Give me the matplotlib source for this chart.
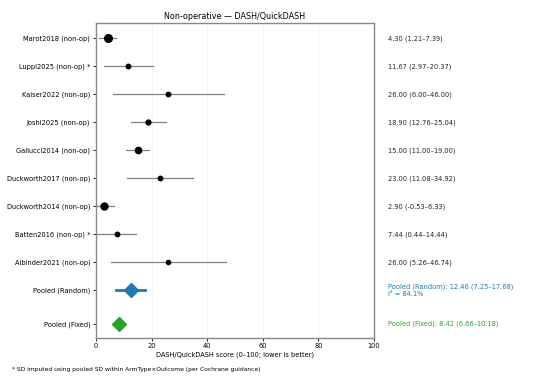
import numpy as np
import matplotlib.pyplot as plt

studies = ['Marot2018 (non-op)', 'Luppi2025 (non-op) *', 'Kaiser2022 (non-op)', 'Joshi2025 (non-op)',
           'Gallucci2014 (non-op)', 'Duckworth2017 (non-op)', 'Duckworth2014 (non-op)',
           'Batten2016 (non-op) *', 'Aibinder2021 (non-op)']
means = [4.30, 11.67, 26.00, 18.90, 15.00, 23.00, 2.90, 7.44, 26.00]
lows = [1.21, 2.97, 6.00, 12.76, 11.00, 11.08, -0.53, 0.44, 5.26]
highs = [7.39, 20.37, 46.00, 25.04, 19.00, 34.92, 6.33, 14.44, 46.74]
msizes = [5.5, 3.2, 3.2, 3.5, 4.5, 3.2, 5.0, 3.2, 3.0]

rand_est, rand_lo, rand_hi = 12.46, 7.25, 17.68
i2 = 84.1
fix_est, fix_lo, fix_hi = 8.42, 6.66, 10.18

fs = 4.8
fig = plt.figure(figsize=(5.45, 3.91), dpi=100)
ax = fig.add_axes([0.176, 0.136, 0.51, 0.805])

ys = np.arange(len(studies))
y_rand = len(studies)
y_fix = len(studies) + 1.2

for y, m, lo, hi, s in zip(ys, means, lows, highs, msizes):
    ax.plot([lo, hi], [y, y], color='gray', lw=0.9, zorder=2)
    ax.plot(m, y, 'o', color='black', ms=s, zorder=3)
    ax.text(1.05, y, '%.2f (%.2f–%.2f)' % (m, lo, hi), transform=ax.get_yaxis_transform(),
            va='center', ha='left', fontsize=fs, color='#222222')

ax.plot([rand_lo, rand_hi], [y_rand, y_rand], color='#1f77b4', lw=2, zorder=2)
ax.plot(rand_est, y_rand, 'D', color='#1f77b4', ms=7.5, zorder=3)
ax.text(1.05, y_rand, 'Pooled (Random): %.2f (%.2f–%.2f)\nI² = %.1f%%' % (rand_est, rand_lo, rand_hi, i2),
        transform=ax.get_yaxis_transform(), va='center', ha='left', fontsize=fs,
        color='#1f77b4', linespacing=1.2)

ax.plot([fix_lo, fix_hi], [y_fix, y_fix], color='#2ca02c', lw=2, zorder=2)
ax.plot(fix_est, y_fix, 'D', color='#2ca02c', ms=7.5, zorder=3)
ax.text(1.05, y_fix, 'Pooled (Fixed): %.2f (%.2f–%.2f)' % (fix_est, fix_lo, fix_hi),
        transform=ax.get_yaxis_transform(), va='center', ha='left', fontsize=fs, color='#2ca02c')

ax.set_yticks(list(ys) + [y_rand, y_fix])
ax.set_yticklabels(studies + ['Pooled (Random)', 'Pooled (Fixed)'], fontsize=fs)
ax.set_ylim(y_fix + 0.5, -0.55)
ax.set_xlim(0, 100)
ax.set_xticks([0, 20, 40, 60, 80, 100])
ax.tick_params(axis='x', labelsize=fs, length=2.5, width=0.6, pad=1.5)
ax.tick_params(axis='y', length=2.5, width=0.6, pad=1.5)
ax.grid(axis='x', color='#eeeeee', lw=0.5)
ax.set_axisbelow(True)
for sp in ax.spines.values():
    sp.set_color('#888888')
    sp.set_linewidth(1.0)

ax.set_xlabel('DASH/QuickDASH score (0–100; lower is better)', fontsize=fs, labelpad=1.5)
ax.set_title('Non-operative — DASH/QuickDASH', fontsize=5.8, pad=3)
fig.text(0.022, 0.054, '* SD imputed using pooled SD within ArmType×Outcome (per Cochrane guidance)',
         fontsize=4.35, ha='left', va='center')

fig.savefig('out.png', dpi=100)
